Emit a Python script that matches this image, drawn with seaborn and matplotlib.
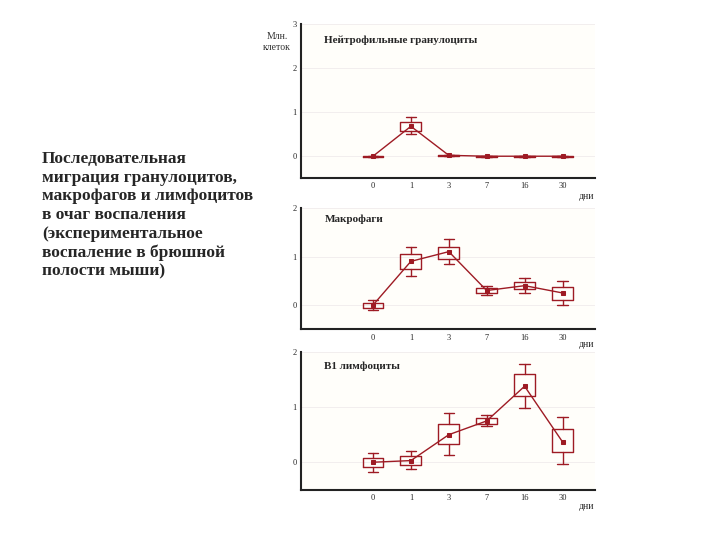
import matplotlib
matplotlib.use("Agg")
import matplotlib.pyplot as plt
import seaborn as sns
import pandas as pd

days = ["0", "1", "3", "7", "16", "30"]

# mean, box (low, high), whiskers (low, high)
neut_mean = [0.0, 0.68, 0.02, 0.0, 0.0, 0.0]
neut_box = [(-0.01, 0.01), (0.58, 0.78), (0.01, 0.03), (-0.01, 0.01), (-0.01, 0.01), (-0.01, 0.01)]
neut_whis = [(-0.01, 0.01), (0.5, 0.9), (0.01, 0.03), (-0.01, 0.01), (-0.01, 0.01), (-0.01, 0.01)]

macro_mean = [0.0, 0.9, 1.1, 0.3, 0.4, 0.25]
macro_box = [(-0.05, 0.05), (0.75, 1.05), (0.95, 1.2), (0.25, 0.35), (0.33, 0.48), (0.1, 0.38)]
macro_whis = [(-0.1, 0.1), (0.6, 1.2), (0.85, 1.35), (0.2, 0.4), (0.25, 0.55), (0.0, 0.5)]

b1_mean = [0.0, 0.03, 0.5, 0.75, 1.38, 0.37]
b1_box = [(-0.08, 0.08), (-0.05, 0.12), (0.33, 0.7), (0.7, 0.8), (1.2, 1.6), (0.18, 0.6)]
b1_whis = [(-0.17, 0.17), (-0.13, 0.2), (0.13, 0.9), (0.65, 0.85), (0.98, 1.78), (-0.04, 0.82)]

titles = ["Нейтрофильные гранулоциты", "Макрофаги", "B1 лимфоциты"]
ymaxes = [3, 2, 2]

sns.set_theme(style="white")
plt.rcParams['font.family'] = ['Liberation Serif', 'DejaVu Serif']
RED = "#9e1b24"

fig = plt.figure(figsize=(7.2, 5.4), dpi=100)
fig.patch.set_facecolor("white")

fig.text(0.058, 0.72,
         "Последовательная\nмиграция гранулоцитов,\nмакрофагов и лимфоцитов\nв очаг воспаления\n"
         "(экспериментальное\nвоспаление в брюшной\nполости мыши)",
         fontsize=12.5, weight="bold", va="top", ha="left", linespacing=1.22, multialignment="left")
fig.text(0.385, 0.94, "Млн.\nклеток", fontsize=7, ha="center", va="top", color="#333333")

rects = [(0.418, 0.67, 0.408, 0.285), (0.418, 0.39, 0.408, 0.225), (0.418, 0.093, 0.408, 0.255)]
panels = [(neut_mean, neut_box, neut_whis), (macro_mean, macro_box, macro_whis),
          (b1_mean, b1_box, b1_whis)]

for rect, (m, bx, wh), title, ymax in zip(rects, panels, titles, ymaxes):
    ax = fig.add_axes(rect)
    stats = [dict(med=mm, q1=b[0], q3=b[1], whislo=w[0], whishi=w[1], fliers=[])
             for mm, b, w in zip(m, bx, wh)]
    ax.bxp(stats, positions=range(len(days)), widths=0.55, showcaps=True,
           boxprops=dict(color=RED, lw=1), whiskerprops=dict(color=RED, lw=1),
           capprops=dict(color=RED, lw=1), medianprops=dict(color=RED, lw=0),
           manage_ticks=False)
    df = pd.DataFrame({"day": days, "value": m})
    sns.pointplot(data=df, x="day", y="value", ax=ax, color=RED, markers="s",
                  markersize=2.5, linewidth=1, native_scale=False)
    ax.set_xlim(-1.9, 5.85)
    ax.set_ylim(-0.5, ymax)
    ax.set_yticks(range(ymax + 1))
    ax.set_xticks(range(len(days)))
    ax.set_xticklabels(days)
    ax.tick_params(labelsize=6, length=0, pad=3)
    ax.set_xlabel("")
    ax.set_ylabel("")
    ax.yaxis.grid(True, color="#f0ecec", lw=0.6)
    ax.set_facecolor("#fffefa")
    for s in ["top", "right"]:
        ax.spines[s].set_visible(False)
    for s in ["left", "bottom"]:
        ax.spines[s].set_color("#222222")
        ax.spines[s].set_linewidth(1.5)
    ax.text(0.08, 0.88, title, transform=ax.transAxes, fontsize=8, weight="bold")
    ax.text(1.0, -0.09, "дни", transform=ax.transAxes, fontsize=7, ha="right", va="top")

fig.savefig("out.png", dpi=100, facecolor="white")
